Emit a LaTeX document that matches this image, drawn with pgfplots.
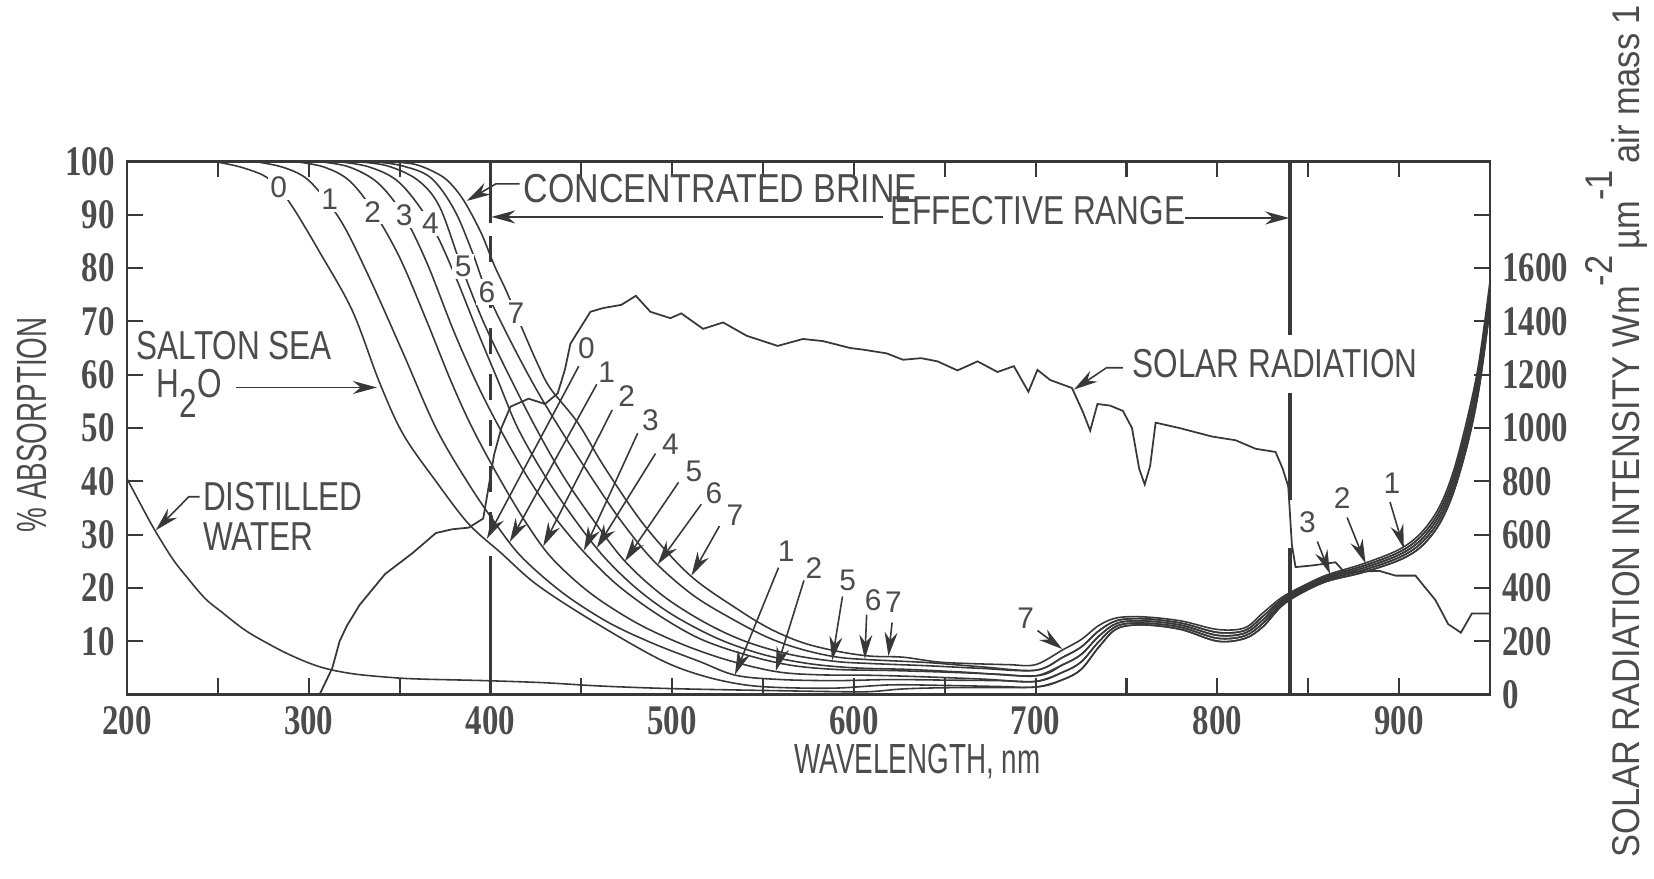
\documentclass[border=0pt]{standalone}
\usepackage{fontspec}
\setmainfont{Liberation Sans}
\newfontfamily\fA{Liberation Sans}[FakeStretch=0.78]
\newfontfamily\fB{Liberation Sans}[FakeStretch=0.84]
\newfontfamily\fC{Liberation Sans}[FakeStretch=0.66]
\newfontfamily\fD{Liberation Sans}[FakeStretch=0.89]
\newfontfamily\fT{Liberation Serif}[FakeStretch=0.78]
\usepackage{pgfplots}
\pgfplotsset{compat=1.18}
\usetikzlibrary{arrows.meta}
\definecolor{ink}{gray}{0.22}
\definecolor{txt}{gray}{0.3}

\begin{document}
\begin{tikzpicture}[
  ann/.style={draw=ink, line width=0.45pt},
  arr/.style={ann, -{Stealth[length=2.4mm,width=1.3mm]}},
  lbl/.style={text=txt, font=\fontsize{8.5}{9}\selectfont, inner sep=0.7pt},
  big/.style={text=txt, font=\fA\fontsize{11.5}{13}\selectfont, inner sep=0pt},
  curve/.style={draw=ink, line width=0.45pt, smooth, tension=0.55},
]
\begin{axis}[
  name=main,
  scale only axis, width=136.3mm, height=53.3mm,
  xmin=200, xmax=950, ymin=0, ymax=100,
  xtick={200,300,...,900}, minor xtick={250,350,...,950},
  ytick={10,20,...,100}, ytick pos=left,
  tick align=inside,
  major tick length=1.6mm, minor tick length=1.6mm,
  axis line style={line width=0.8pt, draw=ink},
  tick style={line width=0.6pt, draw=ink},
  ticklabel style={font=\fT\bfseries\fontsize{12}{14}\selectfont, text=txt},
  /pgf/number format/assume math mode=true,
  /pgf/number format/set thousands separator={},
  clip=false,
]
% distilled water
\addplot[curve] coordinates {(200,40.5)(207,36)(215,31)(225,25.5)(233,22)(243,18)(252,15.5)(262,12.8)(270,11)(288,7.7)(306,5.2)(324,3.9)(345,3.2)(361,2.9)(397,2.6)(430,2.2)(460,1.6)(500,1.1)(560,0.7)(600,0.5)(612,0.6)(625,1.0)(640,1.2)(660,1.3)(700,1.4)(715,2.8)(725,4.7)(735,9.0)(745,12.4)(760,13.05)(780,12.2)(800,10.0)(815,10.5)(825,12.7)(835,16.5)(845,18.8)(860,21.2)(880,22.9)(900,25.2)(912,27.7)(922,31.9)(930,38)(938,47.5)(944,57.5)(950,72.5)};
% curve 0 (Salton Sea)
\addplot[curve] coordinates {(248,100)(262,99)(275,97.4)(283,95.2)(292,91)(306,83)(324,72)(339,58.5)(352,48.8)(370,40)(388,32)(406,26.5)(424,21)(448,15.5)(480,9)(500,5.5)(520,3.2)(540,1.8)(560,1.3)(590,1.2)(620,1.8)(650,1.7)(680,1.5)(700,1.4)(715,2.8)(725,4.7)(735,9.0)(745,12.4)(760,13.05)(780,12.2)(800,10.0)(815,10.5)(825,12.7)(835,16.5)(845,18.8)(860,21.2)(880,22.9)(900,25.2)(912,27.7)(922,31.9)(930,38)(938,47.5)(944,57.5)(950,72.5)};
% curve 1
\addplot[curve] coordinates {(270,100)(285,99)(298,97)(309,93)(320,87.5)(335,77)(352,64)(370,50)(388,39.5)(405,31)(418,25.5)(440,19)(465,13.5)(490,9.5)(515,6.2)(535,3.6)(560,2.8)(590,2.6)(620,2.8)(650,2.7)(680,2.6)(700,2.45)(715,4.2)(725,6.1)(735,10.0)(745,12.9)(760,13.4)(780,12.6)(800,10.55)(815,11.0)(825,13.35)(835,16.9)(845,19.1)(860,21.5)(880,23.3)(900,25.7)(912,28.35)(922,32.7)(930,39)(938,48.75)(944,58.75)(950,73.75)};
% curve 2
\addplot[curve] coordinates {(292,100)(308,99)(322,96.5)(335,91)(350,82)(365,70)(378,59)(390,50)(405,40.5)(420,32)(434,25.5)(455,19)(480,13.5)(505,9.5)(530,6.5)(557,4.3)(580,3.7)(610,3.6)(640,3.3)(670,2.9)(700,2.45)(715,4.2)(725,6.1)(735,10.0)(745,12.9)(760,13.4)(780,12.6)(800,10.55)(815,11.0)(825,13.35)(835,16.9)(845,19.1)(860,21.5)(880,23.3)(900,25.7)(912,28.35)(922,32.7)(930,39)(938,48.75)(944,58.75)(950,73.75)};
% curve 3
\addplot[curve] coordinates {(305,100)(322,99)(338,96)(352,90)(365,81)(380,68)(393,58)(405,50)(420,41)(436,33)(452,26.5)(470,20.5)(492,15)(515,10.5)(540,7.5)(565,5.5)(590,4.7)(620,4.5)(650,4.2)(680,3.8)(700,3.5)(715,5.6)(725,7.5)(735,11.0)(745,13.4)(760,13.8)(780,13.0)(800,11.1)(815,11.5)(825,14.0)(835,17.3)(845,19.4)(860,21.8)(880,23.7)(900,26.2)(912,29.0)(922,33.5)(930,40)(938,50)(944,60)(950,75)};
% curve 4
\addplot[curve] coordinates {(315,100)(333,99)(350,96)(367,88.4)(380,79)(393,68)(404,59)(415,50)(430,41)(446,33)(462,26)(480,20)(500,15)(525,10.5)(550,7.5)(575,5.8)(600,5.0)(630,4.7)(660,4.2)(700,3.5)(715,5.6)(725,7.5)(735,11.0)(745,13.4)(760,13.8)(780,13.0)(800,11.1)(815,11.5)(825,14.0)(835,17.3)(845,19.4)(860,21.8)(880,23.7)(900,26.2)(912,29.0)(922,33.5)(930,40)(938,50)(944,60)(950,75)};
% curve 5
\addplot[curve] coordinates {(325,100)(343,99.2)(360,96.5)(372,91.5)(384,80.3)(396,70)(410,60)(425,50)(440,41)(456,33)(474,25)(495,18.5)(518,13.5)(540,10)(565,7.5)(590,6.2)(610,5.8)(640,5.4)(670,4.9)(700,4.55)(715,7.0)(725,8.9)(735,12.0)(745,13.9)(760,14.2)(780,13.4)(800,11.65)(815,12.0)(825,14.65)(835,17.7)(845,19.7)(860,22.1)(880,24.1)(900,26.7)(912,29.65)(922,34.3)(930,41)(938,51.25)(944,61.25)(950,76.25)};
% curve 6
\addplot[curve] coordinates {(333,100)(350,99.3)(367,97)(380,91)(390,83)(398,75.5)(410,67)(424,58)(438,50)(455,41)(472,32.5)(490,25)(512,18.5)(536,13.6)(554,10.5)(572,8.4)(591,7.0)(610,6.5)(640,6.0)(670,5.2)(700,4.55)(715,7.0)(725,8.9)(735,12.0)(745,13.9)(760,14.2)(780,13.4)(800,11.65)(815,12.0)(825,14.65)(835,17.7)(845,19.7)(860,22.1)(880,24.1)(900,26.7)(912,29.65)(922,34.3)(930,41)(938,51.25)(944,61.25)(950,76.25)};
% curve 7 (concentrated brine)
\addplot[curve] coordinates {(340,100)(358,99.5)(372,97.5)(379,95.5)(386,92.3)(395,86.5)(402,80.6)(409,75.5)(417,69)(426,62)(433,57.4)(448,51)(463,42.5)(485,31.6)(510,22.3)(536,16)(554,12.3)(572,9.7)(591,8.1)(609,7.2)(627,7.0)(646,6.1)(664,5.8)(685,5.6)(700,5.6)(715,8.4)(725,10.3)(735,13.0)(745,14.4)(760,14.55)(780,13.8)(800,12.2)(815,12.5)(825,15.3)(835,18.1)(845,20.0)(860,22.4)(880,24.5)(900,27.2)(912,30.3)(922,35.1)(930,42)(938,52.5)(944,62.5)(950,77.5)};

% effective range boundaries
\draw[ink, line width=1pt] (400,100) -- (400,88.5);
\draw[ink, line width=1pt, dash pattern=on 2.6mm off 2mm] (400,86) -- (400,31);
\draw[ink, line width=1pt] (400,26) -- (400,0);
\draw[ink, line width=1pt] (840,100) -- (840,67.4);
\draw[ink, line width=1pt] (840,56.5) -- (840,36.5);
\draw[ink, line width=1pt] (840,27.4) -- (840,0);

% texts
\node[big, font=\fB\fontsize{11.5}{13}\selectfont, anchor=west] at (418,95) {CONCENTRATED BRINE};
\draw[arr] (416,95.8) -- (403,95.8) -- (387,92.6);
\node[big, anchor=west] at (620,90.8) {EFFECTIVE RANGE};
\draw[arr] (616,89.6) -- (400.5,89.6);
\draw[arr] (782,89.4) -- (839.5,89.4);
\node[big, anchor=west] at (753,62) {SOLAR RADIATION};
\draw[arr] (748,61.3) -- (739,61.3) -- (721,57.2);
\node[big, anchor=west] at (205,65.5) {SALTON SEA};
\node[big, anchor=west] at (216,56.5) {H\raisebox{-0.9ex}{2}O};
\draw[arr] (260,57.6) -- (337.5,57.6);
\node[big, anchor=west] at (241.5,37.1) {DISTILLED};
\node[big, anchor=west] at (241.5,29.7) {WATER};
\draw[arr] (240,37.1) -- (234,37.1) -- (215.8,30.8);

% curve numbers at the top
\node[lbl, fill=white] at (283.4,95.2) {0};
\node[lbl, fill=white] at (311.5,92.9) {1};
\node[lbl, fill=white] at (335.2,90.6) {2};
\node[lbl, fill=white] at (352.5,90) {3};
\node[lbl, fill=white] at (367,88.4) {4};
\node[lbl, fill=white] at (385,80.3) {5};
\node[lbl, fill=white] at (398,75.5) {6};
\node[lbl, fill=white] at (414,71.6) {7};

% numbered arrows, upper set
\node[lbl] at (452.8,65) {0}; \draw[arr] (448.6,61.6) -- (398,29.2);
\node[lbl] at (464,60.5) {1};  \draw[arr] (458.5,58.2) -- (410.6,28.6);
\node[lbl] at (475,56) {2};    \draw[arr] (467,53.4) -- (429,27.8);
\node[lbl] at (488,51.4) {3};  \draw[arr] (481,49) -- (451.4,27);
\node[lbl] at (499,47) {4};    \draw[arr] (490.8,45.2) -- (458.5,27.5);
\node[lbl] at (512,41.8) {5};  \draw[arr] (503.5,39.8) -- (474,25);
\node[lbl] at (523,37.8) {6};  \draw[arr] (516,35.7) -- (492,24.4);
\node[lbl] at (534.5,33.7) {7}; \draw[arr] (526,31.6) -- (510.6,22.3);
% lower set
\node[lbl] at (562.7,26.9) {1}; \draw[arr] (558.5,23.8) -- (534.5,3.7);
\node[lbl] at (578,23.8) {2};   \draw[arr] (572.5,21.4) -- (557,4.4);
\node[lbl] at (596.5,21.4) {5}; \draw[arr] (593.7,18.4) -- (588,6.4);
\node[lbl] at (610.6,17.7) {6}; \draw[arr] (607,15) -- (606,6.7);
\node[lbl] at (621.8,17.3) {7}; \draw[arr] (621,13.5) -- (619,7.2);
% infrared set
\node[lbl] at (694.5,14.4) {7}; \draw[arr] (701,12) -- (714.7,8.5);
\node[lbl] at (849.5,32.3) {3}; \draw[arr] (855,28.7) -- (862,22.6);
\node[lbl] at (868.7,36.8) {2}; \draw[arr] (871.4,33.2) -- (881.5,24.6);
\node[lbl] at (896,39.7) {1};   \draw[arr] (895,36.1) -- (902.6,27.4);

% axis titles
\node[text=txt, font=\fC\fontsize{12}{14}\selectfont, rotate=90] at (147.7,50.6) {\% ABSORPTION};
\node[text=txt, font=\fC\fontsize{12}{14}\selectfont] at (635,-12.6) {WAVELENGTH, nm};
\node[text=txt, font=\fD\fontsize{11}{13}\selectfont, rotate=90, anchor=base east, inner sep=0pt]
  at (1032,129.5) {SOLAR RADIATION INTENSITY Wm\raisebox{1.3ex}{-2}\,µm\raisebox{1.3ex}{-1}\,air mass 1};
\end{axis}

\begin{axis}[
  at={(main.south west)}, anchor=south west,
  scale only axis, width=136.3mm, height=53.3mm,
  xmin=200, xmax=950, ymin=0, ymax=2000,
  xtick=\empty,
  ytick={0,200,...,1600}, extra y ticks={1800}, extra y tick labels={},
  ytick pos=right, tick align=inside,
  major tick length=1.6mm,
  axis line style={draw=none},
  tick style={line width=0.6pt, draw=ink},
  ticklabel style={font=\fT\bfseries\fontsize{12}{14}\selectfont, text=txt},
  /pgf/number format/assume math mode=true,
  /pgf/number format/set thousands separator={},
  clip=false,
]
% solar radiation spectrum, W m^-2 um^-1
\addplot[draw=ink, line width=0.5pt] coordinates {(306,0)(313,100)(317,200)(321,258)(328,336)(342,452)(357,530)(370,606)(379,620)(388,626)(396,660)(399,780)(402,900)(406,1000)(411,1080)(421,1110)(430,1090)(437,1130)(441,1220)(444,1316)(448,1360)(455,1436)(462,1450)(472,1462)(480,1496)(488,1436)(499,1412)(505,1430)(517,1372)(528,1396)(541,1346)(558,1308)(572,1334)(583,1326)(598,1300)(605,1294)(618,1280)(627,1256)(637,1262)(646,1250)(657,1216)(668,1250)(679,1210)(688,1232)(696,1136)(701,1218)(708,1180)(720,1150)(726,1060)(730,990)(734,1090)(741,1084)(748,1064)(753,1000)(757,846)(760,788)(763,858)(766,1020)(779,1000)(797,968)(810,954)(821,922)(832,910)(836,846)(839,780)(841,560)(843,478)(852,484)(865,496)(870,458)(889,464)(898,446)(909,446)(920,354)(927,264)(934,232)(940,304)(950,304)};
\end{axis}

\pgfresetboundingbox
\path[use as bounding box] ([xshift=-12.7mm,yshift=-18.4mm]main.south west) rectangle ([xshift=16.4mm,yshift=16.15mm]main.north east);
\end{tikzpicture}
\end{document}
